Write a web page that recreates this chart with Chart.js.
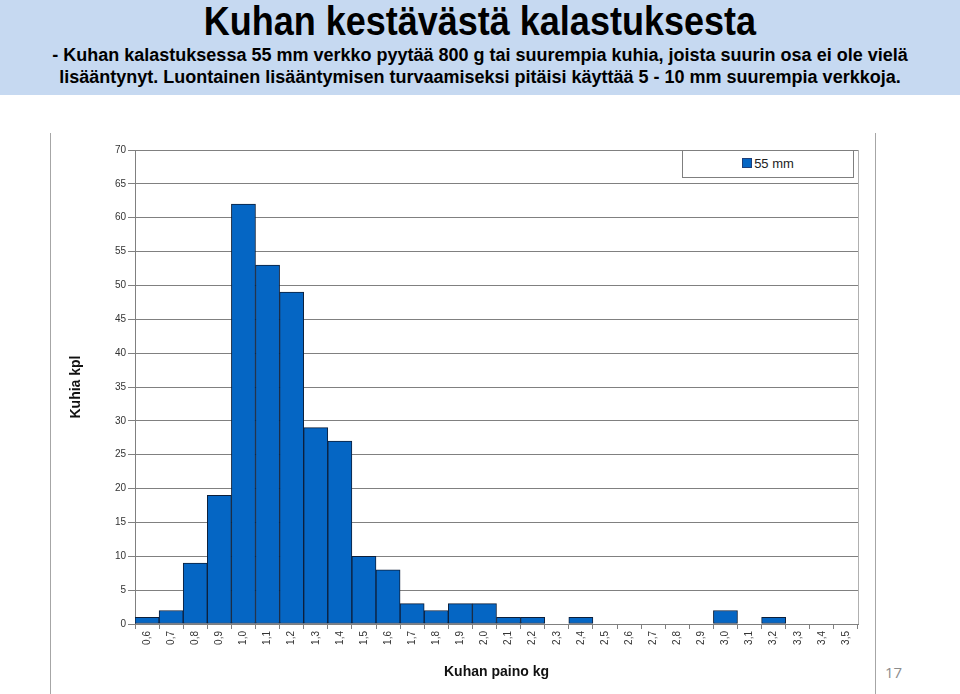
<!DOCTYPE html>
<html>
<head>
<meta charset="utf-8">
<script src="https://cdn.jsdelivr.net/npm/chart.js@4/dist/chart.umd.min.js"></script>
<style>
  body { margin: 0; width: 960px; height: 694px; background: #fff; position: relative; overflow: hidden; font-family: "Liberation Sans", Arial, sans-serif; }
  #header { position: absolute; left: 0; top: 0; width: 960px; height: 95px; background: #c6d9f1; text-align: center; }
  #header h1 { margin: 0; display: inline-block; transform: scaleX(0.9); font-family: "Liberation Sans", Arial, sans-serif; font-weight: bold; font-size: 40px; line-height: 42px; color: #000; }
  #header p { margin: 0; font-weight: bold; font-size: 18px; line-height: 22px; color: #000; }
  #header .sub { padding-top: 2px; }
  .frame { position: absolute; top: 133px; width: 1px; height: 561px; background: #a6a6a6; }
  #chartBox { position: absolute; left: 51px; top: 133px; width: 824px; height: 561px; }
  #legendBox { position: absolute; left: 682px; top: 150px; width: 170px; height: 26px; border: 1px solid #7f7f7f; background: #fff; font-size: 13px; color: #222; text-align: center; line-height: 26px; }
  #legendBox span { display: inline-block; width: 8px; height: 8px; background: #0566c4; border: 1px solid #1d3f7a; margin-right: 2px; vertical-align: 0px; }
  #pageNo { position: absolute; left: 885px; top: 662px; font-family: "Open Sans", sans-serif; font-size: 15px; color: #8c8c8c; }
</style>
</head>
<body>
<div id="header">
  <h1>Kuhan kestävästä kalastuksesta</h1>
  <div class="sub">
    <p>- Kuhan kalastuksessa 55 mm verkko pyytää 800 g tai suurempia kuhia, joista suurin osa ei ole vielä</p>
    <p>lisääntynyt. Luontainen lisääntymisen turvaamiseksi pitäisi käyttää 5 - 10 mm suurempia verkkoja.</p>
  </div>
</div>
<div class="frame" style="left:50px"></div>
<div class="frame" style="left:875px"></div>
<div id="chartBox"><canvas id="weightChart"></canvas></div>
<div id="legendBox"><span></span>55 mm</div>
<div id="pageNo">17</div>
<script>
// Weight classes (kg) and catch counts for the 55 mm net
const weightLabels = ['0,6', '0,7', '0,8', '0,9', '1,0', '1,1', '1,2', '1,3', '1,4', '1,5',
                      '1,6', '1,7', '1,8', '1,9', '2,0', '2,1', '2,2', '2,3', '2,4', '2,5',
                      '2,6', '2,7', '2,8', '2,9', '3,0', '3,1', '3,2', '3,3', '3,4', '3,5'];
const catch55mm = [1, 2, 9, 19, 62, 53, 49, 29, 27, 10,
                   8, 3, 2, 3, 3, 1, 1, 0, 1, 0,
                   0, 0, 0, 0, 2, 0, 1, 0, 0, 0];
const yTicks = [0, 5, 10, 15, 20, 25, 30, 35, 40, 45, 50, 55, 60, 65, 70];

// right edge of the plot area
const plotBorder = {
    id: 'plotBorder',
    afterDraw(chart) {
        const { ctx, chartArea } = chart;
        ctx.save();
        ctx.strokeStyle = '#b0b0b0';
        ctx.lineWidth = 1;
        ctx.beginPath();
        ctx.moveTo(Math.round(chartArea.right) + 0.5, chartArea.top);
        ctx.lineTo(Math.round(chartArea.right) + 0.5, chartArea.bottom);
        ctx.stroke();
        ctx.restore();
    }
};

document.addEventListener('DOMContentLoaded', function () {
    const ctx = document.getElementById('weightChart').getContext('2d');
    window.weightChart = new Chart(ctx, {
        type: 'bar',
        data: {
            labels: weightLabels,
            datasets: [{
                label: '55 mm',
                data: catch55mm,
                backgroundColor: '#0566c4',
                borderColor: '#0d1f3a',
                borderWidth: 1,
                borderSkipped: false,
                barPercentage: 1.0,
                categoryPercentage: 1.0
            }]
        },
        options: {
            responsive: true,
            maintainAspectRatio: false,
            animation: false,
            layout: { padding: { top: 17, right: 17, left: 0, bottom: 0 } },
            plugins: {
                legend: { display: false },
                tooltip: { enabled: false }
            },
            scales: {
                x: {
                    grid: { display: true, drawOnChartArea: false, drawTicks: true, tickLength: 5, color: '#808080', offset: true },
                    border: { color: '#808080' },
                    ticks: {
                        minRotation: 90,
                        maxRotation: 90,
                        autoSkip: false,
                        padding: 2,
                        color: '#333',
                        font: { family: 'Liberation Sans', size: 10 }
                    },
                    title: {
                        display: true,
                        text: 'Kuhan paino kg',
                        color: '#111',
                        font: { family: 'Liberation Sans', size: 14, weight: 'bold' },
                        padding: { top: 0, bottom: 13 }
                    },
                    afterFit(scale) { scale.height = 70; }
                },
                y: {
                    min: 0,
                    max: 70,
                    afterBuildTicks(scale) { scale.ticks = yTicks.map(v => ({ value: v })); },
                    grid: { color: '#808080', tickLength: 7, drawTicks: true },
                    border: { color: '#808080' },
                    ticks: {
                        padding: 2,
                        color: '#333',
                        font: { family: 'Liberation Sans', size: 10 }
                    },
                    title: {
                        display: true,
                        text: 'Kuhia kpl',
                        color: '#111',
                        font: { family: 'Liberation Sans', size: 14, weight: 'bold' },
                        padding: { top: 17, bottom: 0 }
                    },
                    afterFit(scale) { scale.width = 84; }
                }
            }
        },
        plugins: [plotBorder]
    });
});
</script>
</body>
</html>
